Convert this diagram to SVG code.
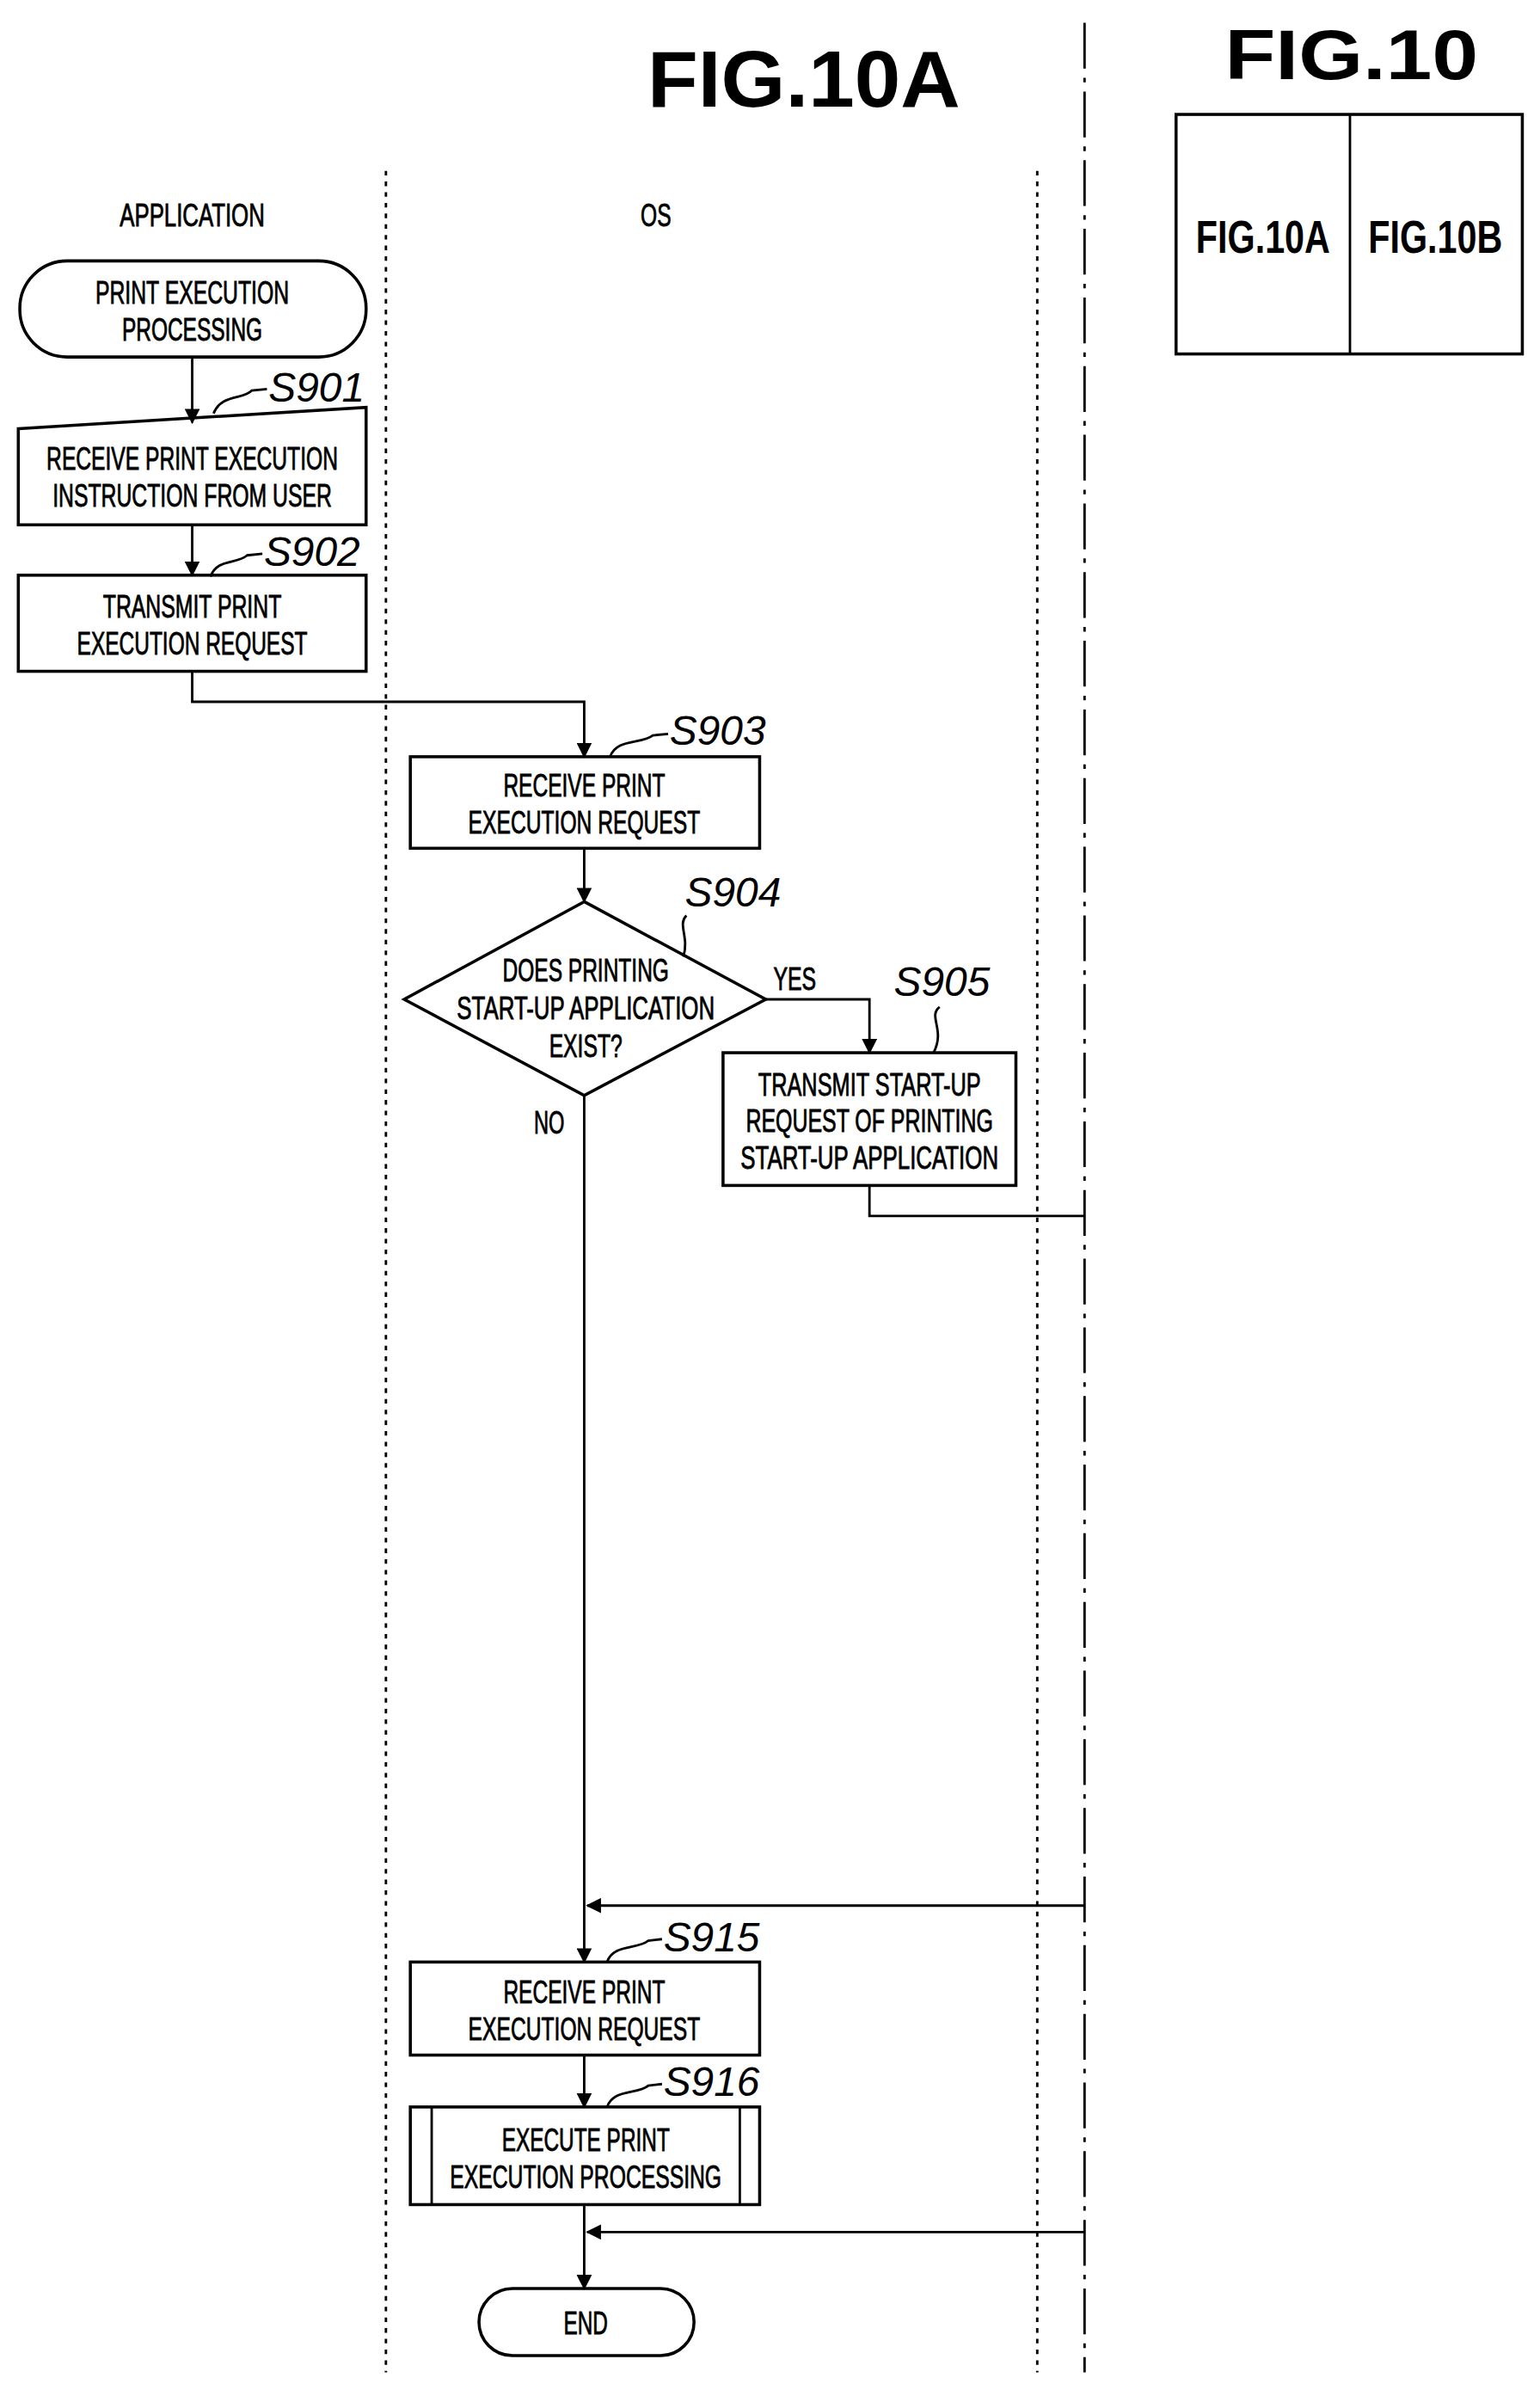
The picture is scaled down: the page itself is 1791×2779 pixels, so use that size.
<svg xmlns="http://www.w3.org/2000/svg" width="1791" height="2779" viewBox="0 0 1791 2779">
<style>
.b{fill:#fff;stroke:#000;stroke-width:2}
.l{fill:none;stroke:#000;stroke-width:1.6}
.t{font-family:"Liberation Sans",Arial,sans-serif;font-size:21px;text-anchor:middle;fill:#000;stroke:#000;stroke-width:0.5}
.s{font-family:"Liberation Sans",Arial,sans-serif;font-size:27px;font-style:italic;fill:#000}
.h{font-family:"Liberation Sans",Arial,sans-serif;font-weight:bold;fill:#000;text-anchor:middle}
</style>
<defs><marker id="a" markerWidth="10" markerHeight="10" refX="9" refY="5" orient="auto" markerUnits="userSpaceOnUse"><path d="M0,0 L10,5 L0,10 z" fill="#000"/></marker></defs>
<rect width="1791" height="2779" fill="#fff"/>
<g transform="scale(1.774)">
<g id="titles">
<text class="h" x="527" y="70" font-size="52" textLength="205" lengthAdjust="spacingAndGlyphs">FIG.10A</text>
<text class="h" x="886" y="52" font-size="46" textLength="166" lengthAdjust="spacingAndGlyphs">FIG.10</text>
<rect class="b" x="771" y="75" width="227" height="157"/>
<line class="l" x1="885" y1="75" x2="885" y2="232" stroke-width="2"/>
<text class="h" x="828" y="166" font-size="30" font-weight="normal" textLength="88" lengthAdjust="spacingAndGlyphs">FIG.10A</text>
<text class="h" x="941" y="166" font-size="30" font-weight="normal" textLength="88" lengthAdjust="spacingAndGlyphs">FIG.10B</text>
<text class="t" x="126" y="148" textLength="95" lengthAdjust="spacingAndGlyphs">APPLICATION</text>
<text class="t" x="430" y="148" textLength="20" lengthAdjust="spacingAndGlyphs">OS</text>
</g>
<g id="lanes">
<line class="l" x1="711" y1="15" x2="711" y2="1555" stroke-dasharray="30,6,3,6"/>
<line class="l" x1="253" y1="112" x2="253" y2="1555" stroke-dasharray="3,4"/>
<line class="l" x1="680" y1="112" x2="680" y2="1555" stroke-dasharray="3,4"/>
</g>
<g id="start"><rect class="b" x="13" y="171" width="227" height="63" rx="31"/>
<text class="t" x="126" y="199" textLength="127" lengthAdjust="spacingAndGlyphs">PRINT EXECUTION</text>
<text class="t" x="126" y="223" textLength="92" lengthAdjust="spacingAndGlyphs">PROCESSING</text></g>
<g id="S901"><path class="b" d="M12,281 L240,267 L240,344 L12,344 z"/>
<text class="t" x="126" y="308" textLength="191" lengthAdjust="spacingAndGlyphs">RECEIVE PRINT EXECUTION</text>
<text class="t" x="126" y="332" textLength="183" lengthAdjust="spacingAndGlyphs">INSTRUCTION FROM USER</text>
<path class="l" d="M140,271 C145,258 160,262 165,256 L175,255"/><text class="s" x="176" y="263">S901</text></g>
<g id="S902"><rect class="b" x="12" y="377" width="228" height="63"/>
<text class="t" x="126" y="405" textLength="117" lengthAdjust="spacingAndGlyphs">TRANSMIT PRINT</text>
<text class="t" x="126" y="429" textLength="151" lengthAdjust="spacingAndGlyphs">EXECUTION REQUEST</text>
<path class="l" d="M138,378 C142,366 155,370 162,364 L172,363"/><text class="s" x="173" y="371">S902</text></g>
<g id="S903"><rect class="b" x="269" y="496" width="229" height="60"/>
<text class="t" x="383" y="522" textLength="106" lengthAdjust="spacingAndGlyphs">RECEIVE PRINT</text>
<text class="t" x="383" y="546" textLength="152" lengthAdjust="spacingAndGlyphs">EXECUTION REQUEST</text>
<path class="l" d="M400,496 C404,484 420,488 428,482 L438,481"/><text class="s" x="439" y="488">S903</text></g>
<g id="S904"><path class="b" d="M383,591 L502,655 L383,718 L265,655 z"/>
<text class="t" x="384" y="643" textLength="109" lengthAdjust="spacingAndGlyphs">DOES PRINTING</text>
<text class="t" x="384" y="668" textLength="169" lengthAdjust="spacingAndGlyphs">START-UP APPLICATION</text>
<text class="t" x="384" y="693" textLength="48" lengthAdjust="spacingAndGlyphs">EXIST?</text>
<path class="l" d="M448,627 C452,614 444,606 450,600"/><text class="s" x="449" y="594">S904</text></g>
<g id="S905"><rect class="b" x="474" y="690" width="192" height="87"/>
<text class="t" x="570" y="718" textLength="146" lengthAdjust="spacingAndGlyphs">TRANSMIT START-UP</text>
<text class="t" x="570" y="742" textLength="162" lengthAdjust="spacingAndGlyphs">REQUEST OF PRINTING</text>
<text class="t" x="570" y="766" textLength="169" lengthAdjust="spacingAndGlyphs">START-UP APPLICATION</text>
<path class="l" d="M612,690 C620,675 608,666 616,660"/><text class="s" x="586" y="653">S905</text></g>
<g id="S915"><rect class="b" x="269" y="1286" width="229" height="61"/>
<text class="t" x="383" y="1313" textLength="106" lengthAdjust="spacingAndGlyphs">RECEIVE PRINT</text>
<text class="t" x="383" y="1337" textLength="152" lengthAdjust="spacingAndGlyphs">EXECUTION REQUEST</text>
<path class="l" d="M398,1286 C402,1274 418,1278 425,1272 L434,1271"/><text class="s" x="435" y="1279">S915</text></g>
<g id="S916"><rect class="b" x="269" y="1381" width="229" height="64"/>
<line class="l" x1="283" y1="1381" x2="283" y2="1445" stroke-width="2"/><line class="l" x1="485" y1="1381" x2="485" y2="1445" stroke-width="2"/>
<text class="t" x="384" y="1410" textLength="110" lengthAdjust="spacingAndGlyphs">EXECUTE PRINT</text>
<text class="t" x="384" y="1434" textLength="178" lengthAdjust="spacingAndGlyphs">EXECUTION PROCESSING</text>
<path class="l" d="M398,1381 C402,1369 418,1373 425,1367 L434,1366"/><text class="s" x="435" y="1374">S916</text></g>
<g id="end"><rect class="b" x="314" y="1500" width="141" height="44" rx="22"/>
<text class="t" x="384" y="1530" textLength="29" lengthAdjust="spacingAndGlyphs">END</text></g>
<g id="connectors">
<line class="l" x1="126" y1="234" x2="126" y2="277" marker-end="url(#a)"/>
<line class="l" x1="126" y1="344" x2="126" y2="377" marker-end="url(#a)"/>
<path class="l" d="M126,440 V460 H383 V496" marker-end="url(#a)"/>
<line class="l" x1="383" y1="556" x2="383" y2="591" marker-end="url(#a)"/>
<path class="l" d="M502,655 H570 V690" marker-end="url(#a)"/>
<path class="l" d="M570,777 V797 H711"/>
<line class="l" x1="383" y1="718" x2="383" y2="1286" marker-end="url(#a)"/>
<line class="l" x1="711" y1="1249" x2="385" y2="1249" marker-end="url(#a)"/>
<line class="l" x1="383" y1="1347" x2="383" y2="1381" marker-end="url(#a)"/>
<line class="l" x1="383" y1="1445" x2="383" y2="1500" marker-end="url(#a)"/>
<line class="l" x1="711" y1="1463" x2="385" y2="1463" marker-end="url(#a)"/>
<text class="t" x="521" y="649" textLength="28" lengthAdjust="spacingAndGlyphs">YES</text>
<text class="t" x="360" y="743" textLength="20" lengthAdjust="spacingAndGlyphs">NO</text>
</g>
</g>
</svg>
